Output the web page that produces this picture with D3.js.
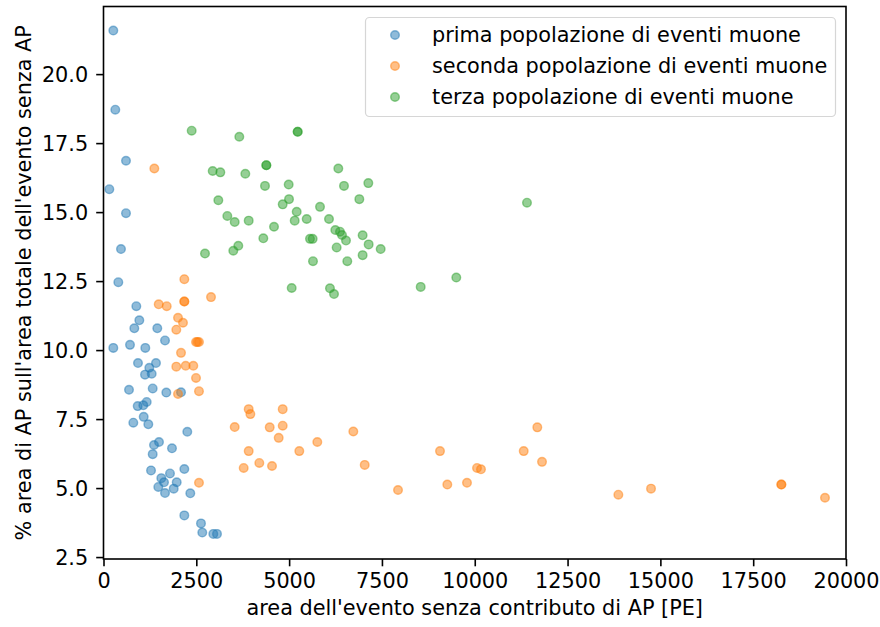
<!DOCTYPE html>
<html>
<head>
<meta charset="utf-8">
<script src="https://cdn.jsdelivr.net/npm/d3@7"></script>
<style>
  body { margin: 0; background: #fff; }
  svg { display: block; font-family: "DejaVu Sans", sans-serif; }
</style>
</head>
<body>
<script>
// prima popolazione (blu)
const primaX = [264, 318, 606, 157, 606, 471, 399, 884, 965, 830, 1449, 1657, 264, 714, 1126,
  929, 1234, 1414, 1118, 1298, 687, 1325, 1692, 2088, 1164, 921, 1072, 803, 1083, 1207, 2257,
  1360, 1495, 1845, 1325, 1280, 1791, 2177, 1557, 1630, 1972, 1476, 1891, 1657, 2338, 2177,
  2626, 2661, 2958, 3057];
const primaY = [21.58, 18.71, 16.86, 15.83, 14.96, 13.66, 12.46, 11.59, 11.08, 10.79, 10.79, 10.35, 10.08, 10.19, 10.08,
  9.53, 9.36, 9.53, 9.11, 9.14, 8.56, 8.61, 8.46, 8.47, 8.12, 7.97, 8.0, 7.37, 7.58, 7.31, 7.04,
  6.56, 6.67, 6.44, 6.23, 5.64, 5.53, 5.69, 5.36, 5.21, 5.21, 5.04, 4.98, 4.82, 4.81, 4.01,
  3.72, 3.39, 3.34, 3.34];

// seconda popolazione (arancio)
const secondaX = [1369, 2177, 2177, 2177, 2896, 1487, 1703, 2007, 2141, 1961, 2492, 2530, 2572, 2088,
  1961, 2214, 2419, 2492, 2572, 2007, 2572, 3911, 3956, 4827, 3534, 4477, 4827, 4719, 3911,
  3776, 4197, 4539, 5274, 5759, 6729, 7036, 7933, 9064, 9261, 9791, 10061, 10168, 11319,
  11685, 11812, 13868, 14748, 18259, 18259, 19434];
const secondaY = [16.58, 12.57, 11.76, 11.76, 11.92, 11.66, 11.59, 11.17, 10.99, 10.74, 10.29, 10.29, 10.29, 9.90,
  9.40, 9.43, 9.43, 8.99, 8.51, 8.41, 5.19, 7.86, 7.68, 7.86, 7.21, 7.20, 7.26, 6.82, 6.34,
  5.73, 5.91, 5.80, 6.34, 6.67, 7.05, 5.84, 4.93, 6.34, 5.13, 5.19, 5.73, 5.68, 6.34,
  7.20, 5.95, 4.76, 4.98, 5.13, 5.13, 4.65];

// terza popolazione (verde)
const terzaX = [2375, 3658, 5230, 5230, 2941, 3147, 3820, 4386, 4386, 6325, 4350, 4988, 6478, 7133,
  3093, 4997, 6891, 4827, 3335, 3534, 3911, 5204, 5832, 5150, 5473, 6074, 4593, 4305, 5562,
  5634, 6244, 6370, 6424, 6532, 6980, 7142, 7466, 6280, 6980, 6567, 5643, 3631, 3496, 2734,
  5069, 6100, 6209, 8544, 9503, 11407];
const terzaY = [17.95, 17.73, 17.91, 17.91, 16.49, 16.44, 16.39, 16.70, 16.70, 16.58, 15.95, 16.00, 15.95, 16.05,
  15.43, 15.47, 15.47, 15.28, 14.86, 14.64, 14.69, 15.01, 15.19, 14.69, 14.75, 14.75, 14.47, 14.05, 14.03,
  14.03, 14.35, 14.29, 14.17, 13.97, 14.16, 13.83, 13.66, 13.72, 13.44, 13.22, 13.22, 13.78, 13.60, 13.50,
  12.25, 12.24, 12.03, 12.29, 12.63, 15.34];

const labels = [
  "prima popolazione di eventi muone",
  "seconda popolazione di eventi muone",
  "terza popolazione di eventi muone",
];
const colors = ["#1f77b4", "#ff7f0e", "#2ca02c"];
const xTicks = [0, 2500, 5000, 7500, 10000, 12500, 15000, 17500, 20000];
const yTicks = [2.5, 5.0, 7.5, 10.0, 12.5, 15.0, 17.5, 20.0];

const series = [
  { x: primaX, y: primaY },
  { x: secondaX, y: secondaY },
  { x: terzaX, y: terzaY },
].map((s, k) => ({
  label: labels[k],
  color: colors[k],
  points: s.x.map((v, i) => ({ x: v, y: s.y[i] })),
}));

const w = 880;
const h = 627;
const fontSize = 20.8;
const plot = { left: 103.5, right: 846, top: 6.5, bottom: 559 };

const svg = d3.select("body").append("svg").attr("width", w).attr("height", h);

const xScale = d3.scaleLinear().domain([0, 20000]).range([plot.left, plot.right]);
const yScale = d3.scaleLinear().domain([2.43, 22.45]).range([plot.bottom, plot.top]);

// points
series.forEach((s) => {
  svg.append("g")
    .selectAll("circle")
    .data(s.points)
    .join("circle")
    .attr("cx", (d) => xScale(d.x))
    .attr("cy", (d) => yScale(d.y))
    .attr("r", 4.3)
    .attr("fill", s.color)
    .attr("fill-opacity", 0.5)
    .attr("stroke", s.color)
    .attr("stroke-opacity", 0.5)
    .attr("stroke-width", 1.4);
});

// axes
const xAxis = d3.axisBottom(xScale).tickValues(xTicks).tickFormat(d3.format("d"))
  .tickSize(7.3).tickPadding(7);
const yAxis = d3.axisLeft(yScale).tickValues(yTicks).tickFormat(d3.format(".1f"))
  .tickSize(7.3).tickPadding(8);

const gx = svg.append("g").attr("transform", `translate(0,${plot.bottom})`).call(xAxis);
const gy = svg.append("g").attr("transform", `translate(${plot.left},0)`).call(yAxis);

[gx, gy].forEach((g) => {
  g.select(".domain").remove();
  g.selectAll(".tick line").attr("stroke", "#000").attr("stroke-width", 1.6);
  g.selectAll(".tick text").attr("fill", "#000").attr("font-size", fontSize)
    .attr("font-family", "DejaVu Sans");
});
gx.selectAll(".tick text").attr("dy", "0.72em");
gy.selectAll(".tick text").attr("dy", "0.36em");

// frame
svg.append("rect")
  .attr("x", plot.left).attr("y", plot.top)
  .attr("width", plot.right - plot.left).attr("height", plot.bottom - plot.top)
  .attr("fill", "none").attr("stroke", "#000").attr("stroke-width", 1.6);

// axis labels
svg.append("text")
  .attr("x", (plot.left + plot.right) / 2)
  .attr("y", 615)
  .attr("text-anchor", "middle")
  .attr("font-size", fontSize)
  .text("area dell'evento senza contributo di AP [PE]");

svg.append("text")
  .attr("transform", `translate(31,${(plot.top + plot.bottom) / 2}) rotate(-90)`)
  .attr("text-anchor", "middle")
  .attr("font-size", fontSize)
  .text("% area di AP sull'area totale dell'evento senza AP");

// legend
const legend = svg.append("g");
legend.append("rect")
  .attr("x", 365.5).attr("y", 17.5)
  .attr("width", 470).attr("height", 99)
  .attr("rx", 4)
  .attr("fill", "#fff").attr("fill-opacity", 0.8)
  .attr("stroke", "#d6d6d6").attr("stroke-width", 1.2);

const rows = legend.selectAll("g.row")
  .data(series)
  .join("g")
  .attr("class", "row")
  .attr("transform", (d, i) => `translate(0,${35 + i * 31})`);

rows.append("circle")
  .attr("cx", 395).attr("cy", 0).attr("r", 4.3)
  .attr("fill", (d) => d.color).attr("fill-opacity", 0.5)
  .attr("stroke", (d) => d.color).attr("stroke-opacity", 0.5)
  .attr("stroke-width", 1.4);

rows.append("text")
  .attr("x", 432).attr("y", 6.5)
  .attr("font-size", fontSize)
  .attr("fill", "#000")
  .text((d) => d.label);
</script>
</body>
</html>
